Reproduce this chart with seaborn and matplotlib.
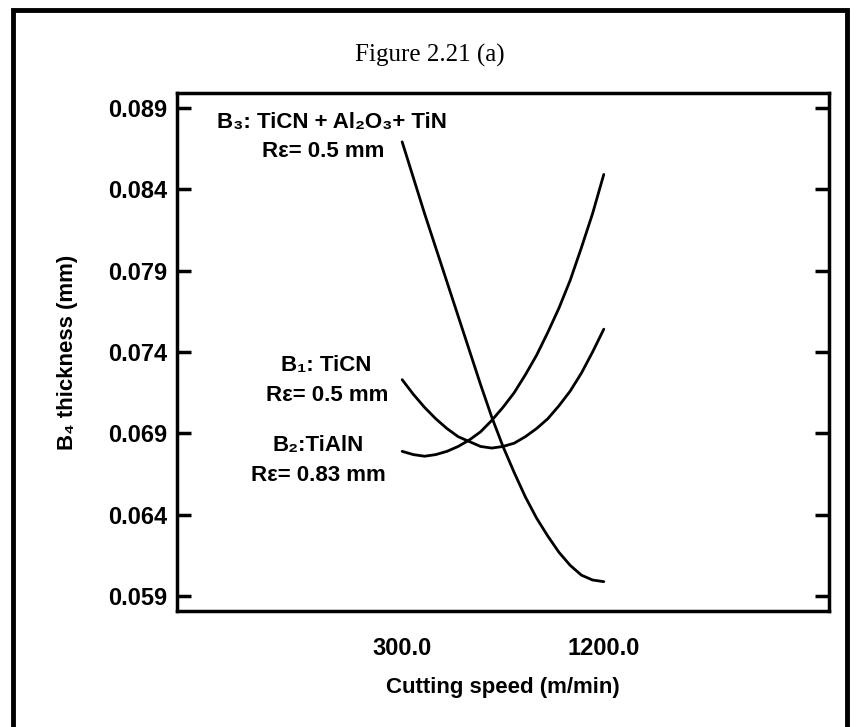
import pandas as pd
import matplotlib.pyplot as plt
import seaborn as sns
from matplotlib.patches import Rectangle

# cutting speed (m/min) and B4 thickness (mm)
speed = [300, 350, 400, 450, 500, 550, 600, 650, 700, 750,
         800, 850, 900, 950, 1000, 1050, 1100, 1150, 1200]
b1_ticn = [0.0723, 0.0714, 0.0706, 0.0699, 0.0693, 0.0688, 0.0685,
           0.0682, 0.0681, 0.0682, 0.0684, 0.0688, 0.0693, 0.0699,
           0.0707, 0.0716, 0.0727, 0.0740, 0.0754]
b2_tialn = [0.0679, 0.0677, 0.0676, 0.0677, 0.0679, 0.0682, 0.0686,
            0.0691, 0.0698, 0.0706, 0.0715, 0.0726, 0.0738, 0.0752,
            0.0767, 0.0784, 0.0804, 0.0825, 0.0849]
b3_multi = [0.0869, 0.0847, 0.0825, 0.0804, 0.0783, 0.0762, 0.0741,
            0.0720, 0.0700, 0.0682, 0.0666, 0.0651, 0.0638, 0.0627,
            0.0617, 0.0609, 0.0603, 0.0600, 0.0599]

yticks = [0.059, 0.064, 0.069, 0.074, 0.079, 0.084, 0.089]
xticks = [300.0, 1200.0]

df = pd.DataFrame({
    'speed': speed * 3,
    'thickness': b1_ticn + b2_tialn + b3_multi,
    'tool': ['B1'] * len(speed) + ['B2'] * len(speed) + ['B3'] * len(speed),
})

sns.set_style('white')
plt.rcParams['font.family'] = ['Liberation Sans', 'DejaVu Sans']
plt.rcParams['font.weight'] = 'bold'
plt.rcParams['text.color'] = 'black'
plt.rcParams['axes.labelcolor'] = 'black'
plt.rcParams['xtick.color'] = 'black'
plt.rcParams['ytick.color'] = 'black'

fig = plt.figure(figsize=(8.6, 7.27), dpi=100)
ax = fig.add_axes([0.2058, 0.1596, 0.7581, 0.7125])

sns.lineplot(data=df, x='speed', y='thickness', hue='tool',
             palette=['black'] * 3, linewidth=2, legend=False, ax=ax)

ax.set_xlim(-705, 2205)
ax.set_ylim(0.0581, 0.0899)
ax.set_xticks(xticks)
ax.set_xticklabels(['300.0', '1200.0'])
ax.set_yticks(yticks)
ax.set_yticklabels([f'{v:.3f}' for v in yticks])

for s in ax.spines.values():
    s.set_linewidth(2.5)
    s.set_color('black')

ax.tick_params(axis='y', direction='in', length=10, width=2.5,
               left=True, right=True, labelsize=17, pad=7)
ax.tick_params(axis='x', length=0, labelsize=17, pad=19)

ax.set_xlabel('Cutting speed (m/min)', fontsize=16, fontweight='bold',
              labelpad=12)
ax.set_ylabel('B\u2084 thickness (mm)', fontsize=16, fontweight='bold',
              labelpad=22)

# curve labels
txt = dict(ha='center', va='center', fontsize=16, fontweight='bold')
ax.text(-12, 0.08808, 'B\u2083: TiCN + Al\u2082O\u2083+ TiN', **txt)
ax.text(-52, 0.08629, 'R\u03b5= 0.5 mm', **txt)
ax.text(-39, 0.07319, 'B\u2081: TiCN', **txt)
ax.text(-34, 0.07135, 'R\u03b5= 0.5 mm', **txt)
ax.text(-74, 0.06827, 'B\u2082:TiAlN', **txt)
ax.text(-74, 0.06643, 'R\u03b5= 0.83 mm', **txt)

fig.text(0.5, 1 - 55 / 727, 'Figure 2.21 (a)', ha='center', va='center',
         fontsize=18, fontweight='normal', family='Liberation Serif')

# outer frame (bottom edge runs off the image)
fig.patches.append(Rectangle((13 / 860, -0.05), 834 / 860, 1 - 10 / 727 + 0.05,
                             transform=fig.transFigure, fill=False,
                             edgecolor='black', linewidth=3.5))

fig.savefig('out.png', dpi=100)
